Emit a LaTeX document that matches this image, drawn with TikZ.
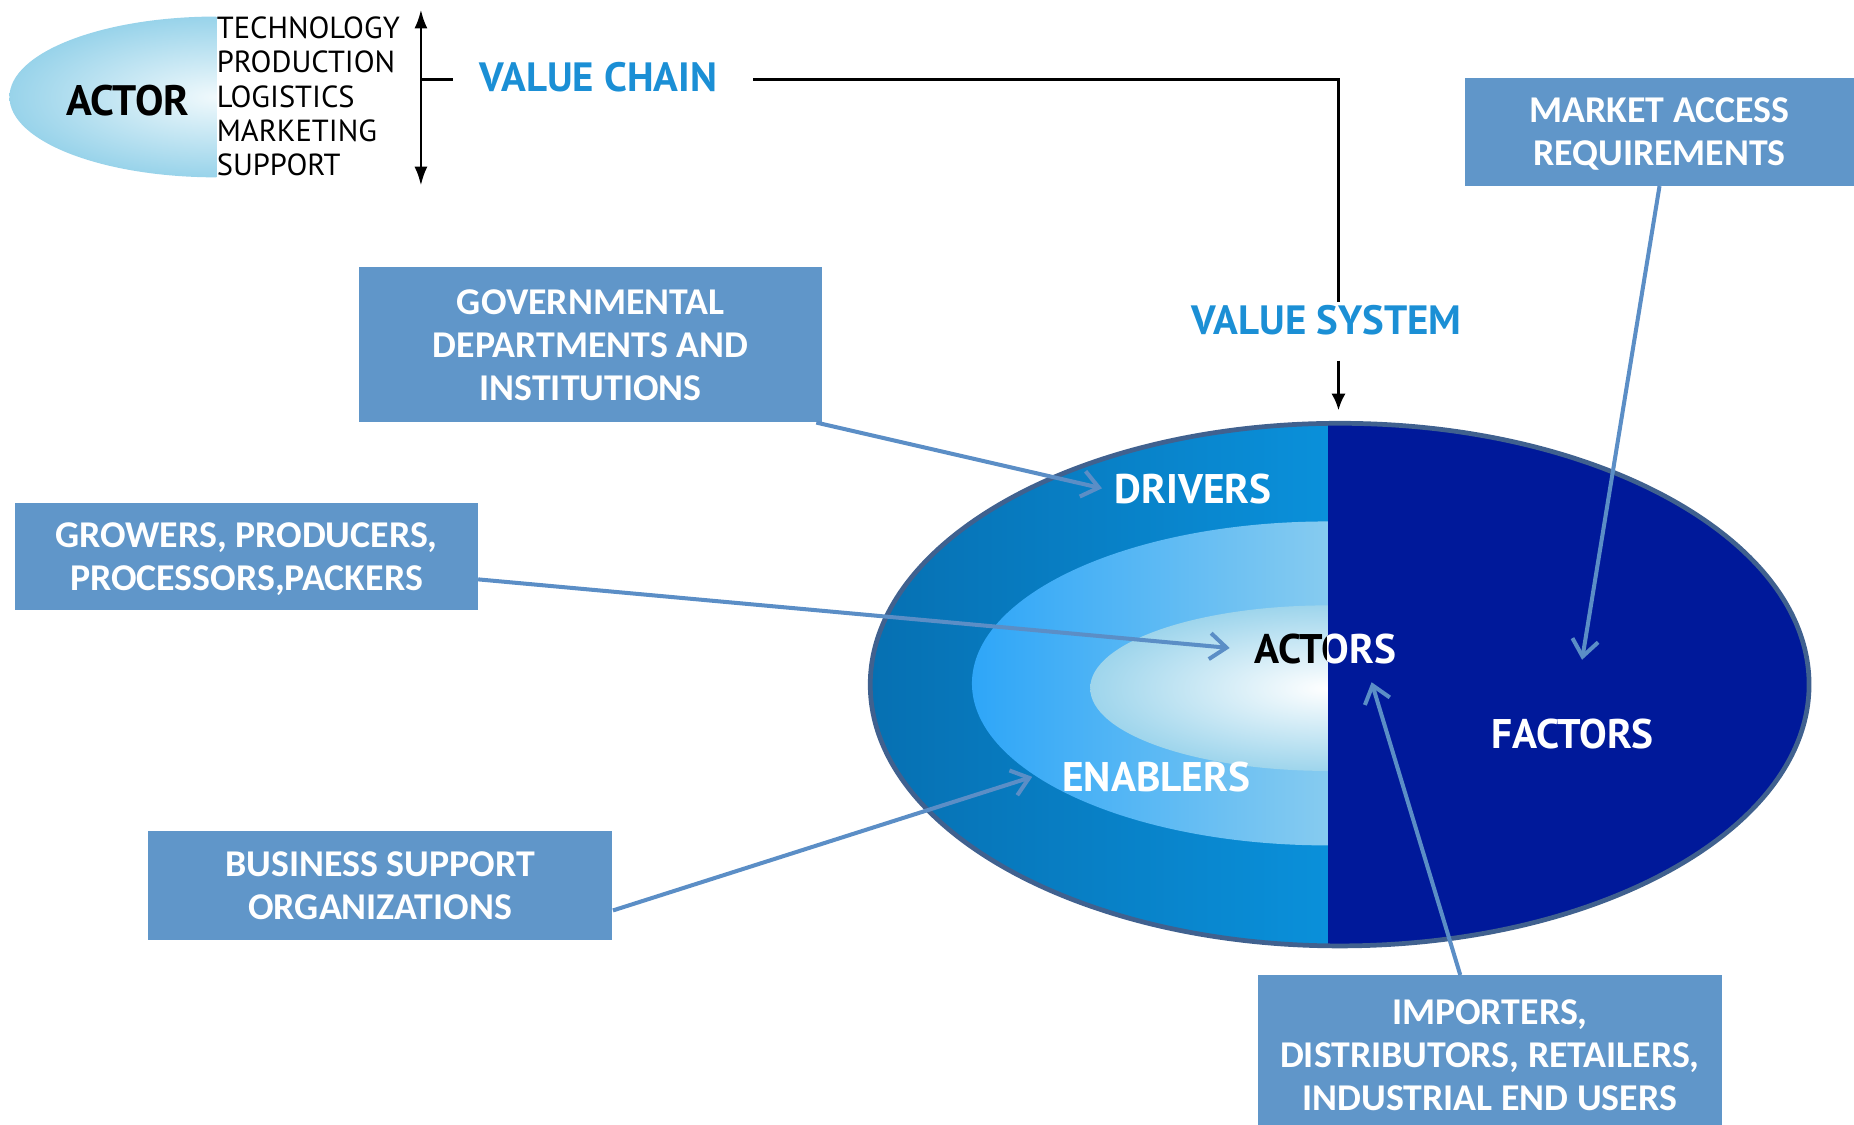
\documentclass[tikz,border=0pt]{standalone}
\usepackage{fontspec}
\setmainfont{Carlito}
\newfontfamily\pts{PT Sans}
\usetikzlibrary{arrows.meta}
\definecolor{boxblue}{HTML}{6096C9}
\definecolor{arrblue}{HTML}{5B8EC6}
\definecolor{navy}{HTML}{00199A}
\definecolor{ringdark}{HTML}{0670B2}
\definecolor{ringlight}{HTML}{0A90DA}
\definecolor{midleft}{HTML}{2EA6F8}
\definecolor{midright}{HTML}{86CBF0}
\definecolor{innerblue}{HTML}{9ED5EC}
\definecolor{bordercol}{HTML}{40618F}
\definecolor{vctext}{HTML}{1B8FD5}
\definecolor{topout}{HTML}{98D3EA}
\definecolor{topin}{HTML}{F0F9FC}
\begin{document}
\begin{tikzpicture}[x=0.5pt,y=-0.5pt,
  box/.style={fill=boxblue,draw=none,text=white,align=center,inner sep=0pt,text depth=0pt,
    font=\fontsize{16}{18.2}\selectfont\bfseries},
  callout/.style={draw=arrblue,line width=1.7pt,-{Straight Barb[length=7pt,width=11pt]}},
  inlabel/.style={font=\pts\fontsize{17.5}{18}\selectfont\bfseries,inner sep=0pt},
  bluehead/.style={font=\pts\fontsize{17.3}{18}\selectfont\bfseries,text=vctext,inner sep=0pt},
  blackline/.style={draw=black,line width=1.2pt}]
\useasboundingbox (0,0) rectangle (1568,951);

% ---- top-left actor ellipse
\begin{scope}
  \clip (0,0) rectangle (183,200);
  \shade[inner color=topin,outer color=topout] (183,82) ellipse [x radius=87.5pt,y radius=34pt];
\end{scope}
\node[font=\pts\fontsize{18}{18}\selectfont\bfseries,inner sep=0pt] (actor) at (108,85) {ACTOR};
\node[font=\pts\fontsize{12.9}{14.5}\selectfont,align=left,anchor=west,inner sep=0pt] (list) at (183,81.5)
  {TECHNOLOGY\\PRODUCTION\\LOGISTICS\\MARKETING\\SUPPORT};

% ---- double arrow and value chain
\coordinate (vtop) at (356,8);
\coordinate (vbot) at (356,157);
\coordinate (vmid) at (356,67);
\coordinate (vtick) at (383,67);
\draw[blackline,{Latex[length=8pt,width=5.5pt]}-{Latex[length=8pt,width=5.5pt]}] (vtop) -- (vbot);
\draw[blackline] (vmid) -- (vtick);
\node[bluehead] (vc) at (506,65) {VALUE CHAIN};
\node[bluehead] (vs) at (1122,271) {VALUE SYSTEM};
\coordinate (lstart) at (637,67);
\coordinate (lend) at (1132,255);
\draw[blackline] (lstart) -| (lend);
\coordinate (astart) at (1132,305);
\coordinate (aend) at (1132,347);
\draw[blackline,-{Latex[length=7pt,width=6pt]}] (astart) -- (aend);

% ---- big ellipse
\begin{scope}
  \clip (1133,579) ellipse [x radius=198.5pt,y radius=110.5pt];
  \shade[left color=ringdark,right color=ringlight] (736,358) rectangle (1123,800);
  \fill[navy] (1123,350) rectangle (1540,810);
  \begin{scope}
    \clip (1123,578) ellipse [x radius=150.5pt,y radius=68.5pt];
    \shade[left color=midleft,right color=midright] (822,441) rectangle (1123,715);
  \end{scope}
  \begin{scope}
    \clip (700,350) rectangle (1123,810);
    \shade[inner color=white,outer color=innerblue] (1123,582) ellipse [x radius=100.5pt,y radius=35pt];
  \end{scope}
\end{scope}
\draw[bordercol,line width=2pt] (1133,579) ellipse [x radius=198.5pt,y radius=110.5pt];

\node[inlabel,text=white] (drivers) at (1009,414) {DRIVERS};
\node[inlabel,text=white] (enablers) at (978,657) {ENABLERS};
\node[inlabel,text=white] (factors) at (1330,621) {FACTORS};
\begin{scope}
  \clip (700,500) rectangle (1123,600);
  \node[inlabel,text=black] (actors) at (1121,549) {ACTORS};
\end{scope}
\begin{scope}
  \clip (1123,500) rectangle (1300,600);
  \node[inlabel,text=white] (actorsw) at (1121,549) {ACTORS};
\end{scope}

% ---- boxes
\node[box,minimum width=195.5pt,minimum height=65.5pt] (gov) at (499.5,291.5)
  {GOVERNMENTAL\\DEPARTMENTS AND\\INSTITUTIONS};
\node[box,minimum width=195.5pt,minimum height=45.5pt] (grow) at (208.5,470.5)
  {GROWERS, PRODUCERS,\\PROCESSORS,PACKERS};
\node[box,minimum width=196.5pt,minimum height=46pt] (bus) at (321.5,749)
  {BUSINESS SUPPORT\\ORGANIZATIONS};
\node[box,minimum width=164.5pt,minimum height=45.5pt] (mkt) at (1403.5,111.5)
  {MARKET ACCESS\\REQUIREMENTS};
\node[box,minimum width=196pt,minimum height=67.5pt] (imp) at (1260,892.5)
  {IMPORTERS,\\DISTRIBUTORS, RETAILERS,\\INDUSTRIAL END USERS};

% ---- callout arrows
\coordinate (tdrv) at (932,413);
\coordinate (tact) at (1040,548);
\coordinate (tenb) at (873,657);
\coordinate (tfac) at (1338,558);
\coordinate (timp) at (1160,577);
\draw[callout] ([xshift=-2.5pt]gov.south east) -- (tdrv);
\draw[callout] ([yshift=-9.75pt]grow.east) -- (tact);
\draw[callout] ([yshift=-10.5pt]bus.east) -- (tenb);
\draw[callout] (mkt.south) -- (tfac);
\draw[callout] ([xshift=-12.5pt]imp.north) -- (timp);
\end{tikzpicture}
\end{document}
